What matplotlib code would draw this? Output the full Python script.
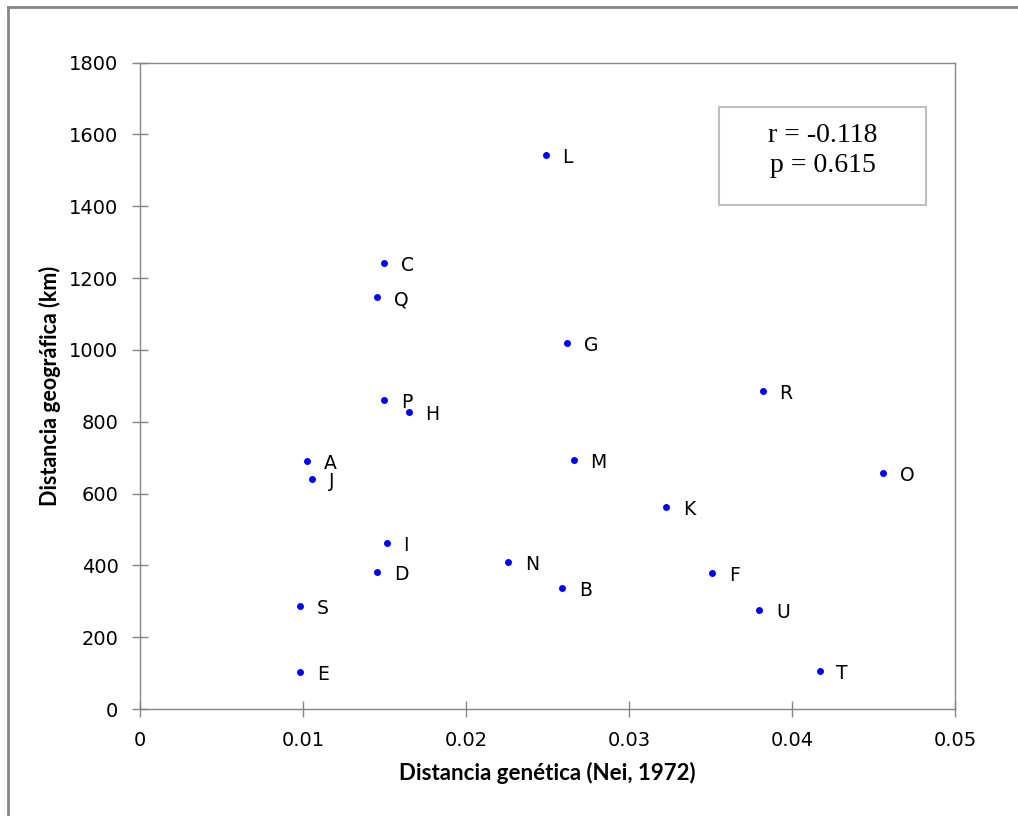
import matplotlib
matplotlib.use("Agg")
import matplotlib.pyplot as plt
from matplotlib.lines import Line2D
from matplotlib.patches import Rectangle

# data
labels = ["L", "C", "Q", "G", "R", "P", "H", "A", "M", "O", "J",
          "K", "I", "N", "D", "F", "B", "S", "U", "E", "T"]
dist_gen = [0.0249, 0.01497, 0.01454, 0.0262, 0.0382, 0.01497, 0.0165,
            0.01025, 0.0266, 0.0456, 0.01055, 0.0323, 0.01515, 0.02258,
            0.01454, 0.0351, 0.0259, 0.00982, 0.0380, 0.00982, 0.0417]
dist_geo = [1543, 1243, 1148, 1020, 886, 861, 827, 691, 694, 657, 641,
            563, 462, 410, 382, 379, 337, 287, 276, 103, 106]
x_ticks = [0, 0.01, 0.02, 0.03, 0.04, 0.05]
x_ticklabels = ["0", "0.01", "0.02", "0.03", "0.04", "0.05"]
y_ticks = list(range(0, 1801, 200))
stats_text = "r = -0.118\np = 0.615"

gray = "#868686"

fig = plt.figure(figsize=(10.18, 8.16), dpi=100)
ax = fig.add_axes([0.1375, 0.1311, 0.8006, 0.7922])

ax.plot(dist_gen, dist_geo, "o", color="#0000ff", markersize=5, markeredgewidth=0)
for lab, xv, yv in zip(labels, dist_gen, dist_geo):
    ax.annotate(lab, (xv, yv), xytext=(12, -2), textcoords="offset points",
                va="center", ha="left", fontsize=13.5, family="DejaVu Sans")

ax.set_xlim(0, 0.05)
ax.set_ylim(0, 1800)
ax.set_xticks(x_ticks)
ax.set_xticklabels(x_ticklabels)
ax.set_yticks(y_ticks)
ax.tick_params(direction="inout", length=11, width=1, color=gray,
               labelsize=14, pad=10)
for s in ax.spines.values():
    s.set_color(gray)
    s.set_linewidth(1)

ax.set_xlabel("Distancia genética (Nei, 1972)", fontsize=16,
              fontweight="bold", family="Lato", labelpad=9)
ax.set_ylabel("Distancia geográfica (km)", fontsize=15.5,
              fontweight="bold", family="Lato", labelpad=6)

# r / p box
ax.add_patch(Rectangle((0.710, 0.780), 0.254, 0.152, transform=ax.transAxes,
                       facecolor="white", edgecolor="#bfbfbf", linewidth=1.5))
ax.text(0.8375, 0.864, stats_text, transform=ax.transAxes, ha="center",
        va="center", fontsize=20, family="Liberation Serif", linespacing=1.3)

# outer chart border (top and left only visible)
fig.add_artist(Line2D([0.008, 1.0], [0.991, 0.991], transform=fig.transFigure,
                      color=gray, linewidth=2))
fig.add_artist(Line2D([0.008, 0.008], [0.0, 0.991], transform=fig.transFigure,
                      color=gray, linewidth=2))

fig.savefig("out.png", dpi=100)
